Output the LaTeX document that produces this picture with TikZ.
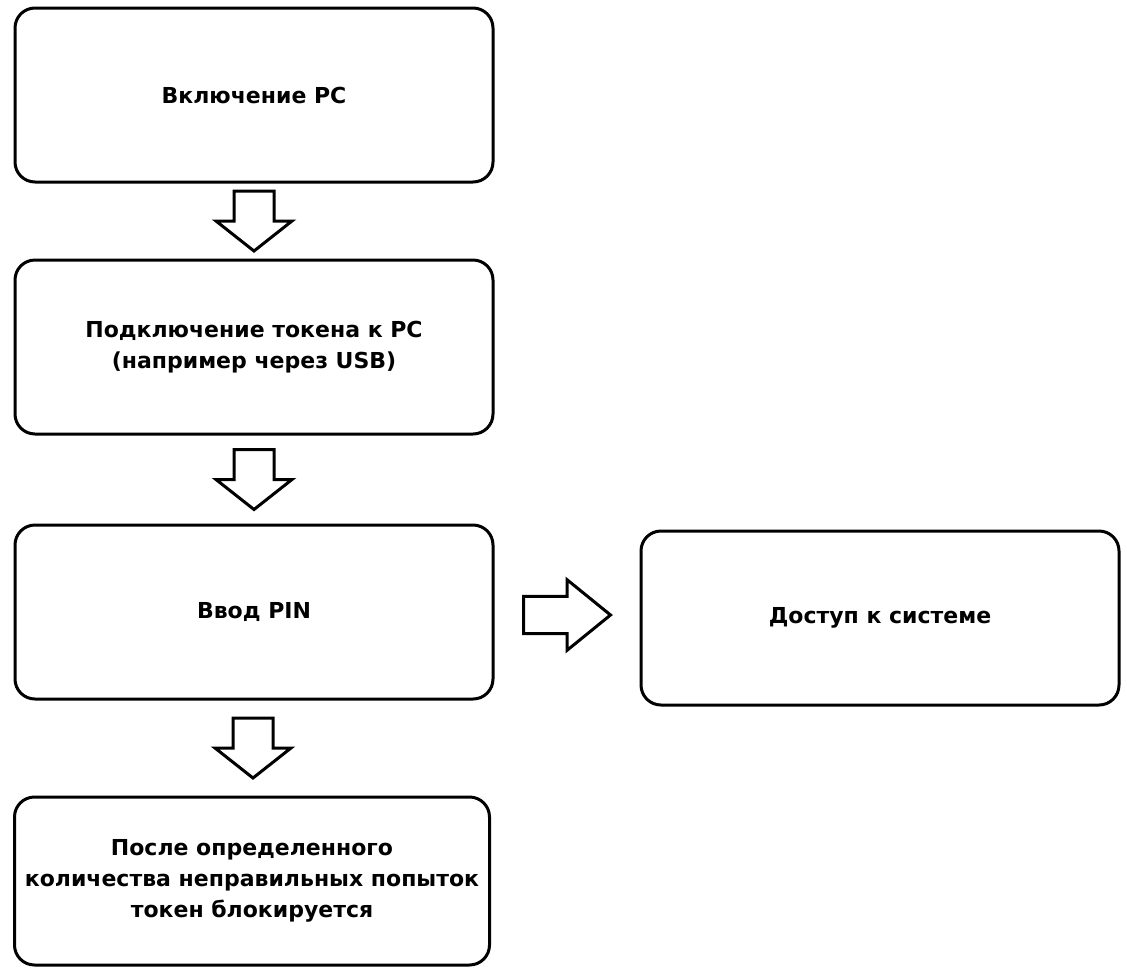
\documentclass[tikz,border=0pt]{standalone}
\usepackage{fontspec}
\setmainfont{DejaVu Sans}
\usetikzlibrary{calc}

\begin{document}
\begin{tikzpicture}[x=1pt, y=-1pt,
  stepbox/.style={draw, line width=3pt, rounded corners=20pt,
    minimum width=478pt, minimum height=174pt, align=center,
    font=\fontsize{22}{31}\selectfont\bfseries},
  arrline/.style={draw, line width=3pt, line join=miter, fill=white},
  blockarr/.pic={\path[arrline] (-20,-30) -- (20,-30) -- (20,0) -- (38,0)
    -- (0,30) -- (-38,0) -- (-20,0) -- cycle;}
]
  \useasboundingbox (0,0) rectangle (1127,970);

  \node[stepbox] (power) at (254,95) {Включение PC};
  \node[stepbox] (token) at (254,347) {Подключение токена к PC\\(например через USB)};
  \node[stepbox] (pin) at (254,612) {Ввод PIN};
  \node[stepbox] (access) at (880,618) {Доступ к системе};
  \node[stepbox, minimum width=475pt, minimum height=168pt] (blocked) at (252,881)
    {После определенного\\количества неправильных попыток\\токен блокируется};

  % block arrows between the steps
  \pic at ($(power.south)!0.5!(token.north)$) {blockarr};
  \pic at ($(token.south)!0.5!(pin.north)$) {blockarr};
  \pic at ($(pin.south)!0.5!(blocked.north)$) {blockarr};
  \pic[rotate=90, xscale=0.93, yscale=1.45] at ($(pin.east)!0.5!(access.west)$) {blockarr};
\end{tikzpicture}
\end{document}
